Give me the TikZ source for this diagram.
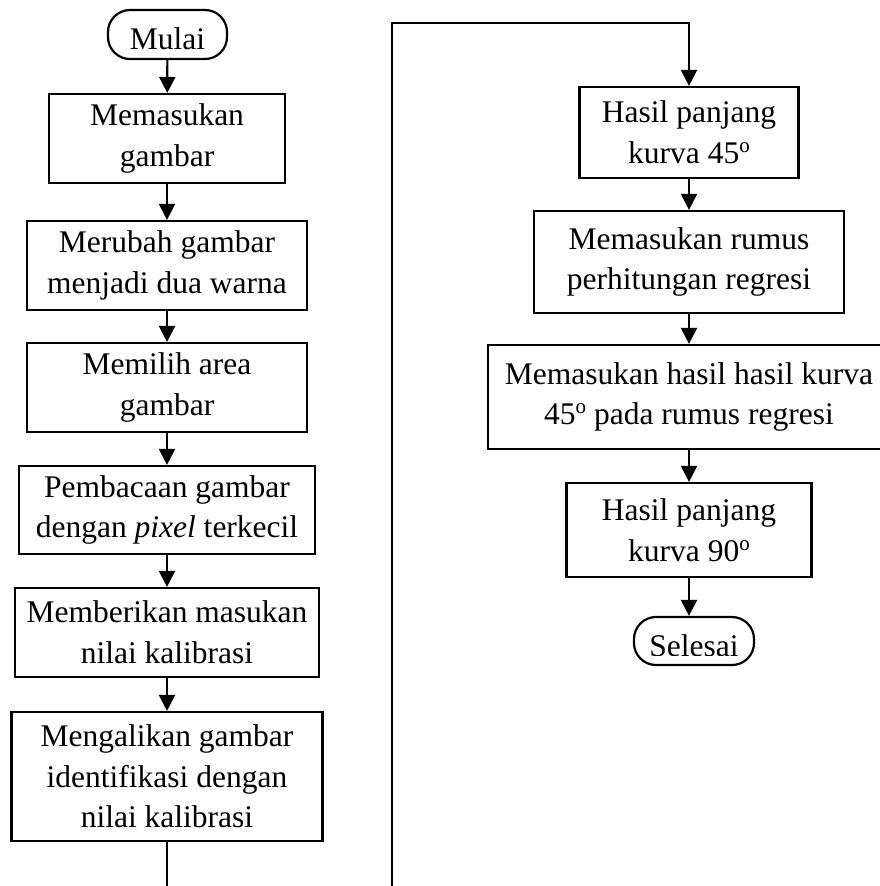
\documentclass[tikz,border=0pt]{standalone}
\usepackage{fontspec}
\setmainfont{Liberation Serif}
\usetikzlibrary{arrows.meta}
\newcommand\degsup{\raisebox{11pt}{\fontsize{21}{21}\selectfont o}}
\begin{document}
\begin{tikzpicture}[x=1pt,y=-1pt,
  line width=2.2pt,
  txt/.style={font=\fontsize{31.5}{40.7}\selectfont},
  proc/.style={draw, rectangle, inner sep=0pt, align=center, txt},
  term/.style={draw, rectangle, rounded corners=22pt, inner sep=0pt, minimum height=49pt},
  arr/.style={-{Triangle[length=16pt,width=16pt]}}
]
\clip (0,0) rectangle (880,886);
% left column
\node[term, minimum width=119pt] (mulai) at (167.5,34.5) {};
\node[txt, anchor=base] at (167.5,49) {Mulai};
\node[proc, minimum width=236pt, minimum height=89pt] (b1) at (167,138.5) {Memasukan\\gambar};
\node[proc, minimum width=280pt, minimum height=89pt] (b2) at (167,265.5) {Merubah gambar\\menjadi dua warna};
\node[proc, minimum width=280pt, minimum height=89pt] (b3) at (167,387.5) {Memilih area\\gambar};
\node[proc, minimum width=296pt, minimum height=88pt] (b4) at (167,510) {Pembacaan gambar\\dengan \textit{pixel} terkecil};
\node[proc, minimum width=304pt, minimum height=89pt] (b5) at (167,632.5) {Memberikan masukan\\nilai kalibrasi};
\node[proc, minimum width=311pt, minimum height=129pt] (b6) at (167,776.5) {Mengalikan gambar\\identifikasi dengan\\nilai kalibrasi};
\coordinate (lend) at (167,892);
\draw[arr] (mulai) -- (b1);
\draw[arr] (b1) -- (b2);
\draw[arr] (b2) -- (b3);
\draw[arr] (b3) -- (b4);
\draw[arr] (b4) -- (b5);
\draw[arr] (b5) -- (b6);
\draw (b6) -- (lend);
% right column
\node[proc, minimum width=219pt, minimum height=91pt] (r1) at (689,132.5) {Hasil panjang\\kurva 45\degsup};
\node[proc, minimum width=310pt, minimum height=102pt] (r2) at (689,262) {Memasukan rumus\\perhitungan regresi};
\node[proc, minimum width=402pt, minimum height=104pt] (r3) at (689,397) {Memasukan hasil hasil kurva\\45\degsup{} pada rumus regresi};
\node[proc, minimum width=245pt, minimum height=94pt] (r4) at (689,530) {Hasil panjang\\kurva 90\degsup};
\node[term, minimum width=120pt, minimum height=48pt] (sel) at (694,641) {};
\begin{scope}
  \clip (600,600) rectangle (790,655.5);
  \node[txt, anchor=base] at (694,656) {Selesai};
\end{scope}
\coordinate (rstart) at (392,892);
\coordinate (rtop) at (689,23);
\draw[arr] (rstart) |- (rtop) -- (r1);
\draw[arr] (r1) -- (r2);
\draw[arr] (r2) -- (r3);
\draw[arr] (r3) -- (r4);
\draw[arr] (r4) -- (r4 |- sel.north);
\end{tikzpicture}
\end{document}
